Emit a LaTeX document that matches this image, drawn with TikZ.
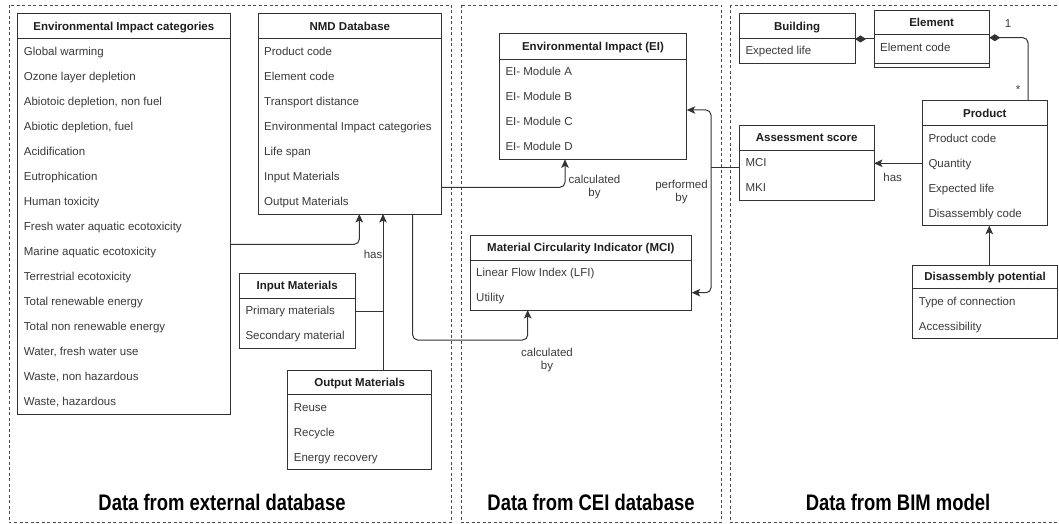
\documentclass[tikz,border=0pt]{standalone}
\usepackage{fontspec}
\setmainfont{Liberation Sans}
\usetikzlibrary{arrows.meta,calc}

\definecolor{ink}{HTML}{333333}
\definecolor{itemink}{HTML}{3A3A3A}
\definecolor{headink}{HTML}{1E1E1E}
\definecolor{panelink}{HTML}{4A4A4A}

\tikzset{
  classframe/.style={draw=ink, line width=1pt, inner sep=0pt, outer sep=0pt,
    anchor=north west, fill=white},
  frameline/.style={draw=ink, line width=1pt},
  headtext/.style={anchor=base, inner sep=0pt, text=headink,
    font=\fontsize{11.5}{13}\selectfont\bfseries},
  itemtext/.style={anchor=base west, inner sep=0pt, text=itemink,
    font=\fontsize{11.5}{13}\selectfont},
  labeltext/.style={inner sep=0pt, text=itemink, align=center,
    font=\fontsize{11.5}{13}\selectfont},
  conn/.style={draw=ink, line width=1pt, rounded corners=5pt},
  arrowto/.style={conn, -{Stealth[length=8.5pt,width=7.5pt,inset=2pt]}},
  partof/.style={conn, {Diamond[length=11pt,width=7pt]}-},
  panel/.style={draw=panelink, line width=0.8pt, dash pattern=on 3pt off 2.5pt},
  paneltitle/.style={anchor=base, inner sep=0pt, text=black,
    font=\fontsize{22.5}{26}\selectfont\bfseries},
}

% class box: name, left, top, width, height, header height, title, items
\newcommand\classbox[8]{%
  \node[classframe, minimum width=#4pt, minimum height=#5pt] (#1) at (#2,#3) {};
  \draw[frameline] ($(#1.north west)+(0,#6)$) -- ($(#1.north east)+(0,#6)$);
  \node[headtext] (#1-title) at ($(#1.north)+(0,#6/2+4)$) {#7};
  \foreach \itm [count=\k] in {#8}
    \node[itemtext] (#1-\k) at ($(#1.north west)+(6,#6+25*\k-8.5)$) {\itm};
}

\begin{document}
\begin{tikzpicture}[x=1pt,y=-1pt]
\useasboundingbox (0,0) rectangle (1059,524);

% the three data-source panels
\draw[panel] (9,5) rectangle (451,522.5);
\draw[panel] (461,5) rectangle (721,522.5);
\draw[panel] (730,5) rectangle (1066,522.5);
\node[paneltitle] (t-ext) at (222,510.5) {\scalebox{0.82}[1]{Data from external database}};
\node[paneltitle] (t-cei) at (591,510.5) {\scalebox{0.82}[1]{Data from CEI database}};
\node[paneltitle] (t-bim) at (898,510.5) {\scalebox{0.82}[1]{Data from BIM model}};

% external database
\classbox{env}{17.7}{14}{212.3}{400}{25}{Environmental Impact categories}{
  Global warming, Ozone layer depletion, {Abiotoic depletion, non fuel},
  {Abiotic depletion, fuel}, Acidification, Eutrophication, Human toxicity,
  Fresh water aquatic ecotoxicity, Marine aquatic ecotoxicity,
  Terrestrial ecotoxicity, Total renewable energy, Total non renewable energy,
  {Water, fresh water use}, {Waste, non hazardous}, {Waste, hazardous}}
\classbox{nmd}{258}{14}{183.7}{200}{25}{NMD Database}{
  Product code, Element code, Transport distance,
  Environmental Impact categories, Life span, Input Materials, Output Materials}
\classbox{inp}{239.3}{273.3}{115.7}{75}{25}{Input Materials}{
  Primary materials, Secondary material}
\classbox{outm}{287.7}{370}{144}{99.5}{24.5}{Output Materials}{
  Reuse, Recycle, Energy recovery}

% CEI database
\classbox{ei}{499.3}{33.3}{187.4}{126}{26}{Environmental Impact (EI)}{
  EI- Module A, EI- Module B, EI- Module C, EI- Module D}
\classbox{mci}{470}{235}{221.7}{75}{25}{Material Circularity Indicator (MCI)}{
  Linear Flow Index (LFI), Utility}

% BIM model
\classbox{bldg}{739.3}{14}{115.7}{49.5}{24.5}{Building}{Expected life}
\classbox{elem}{874}{10.7}{115.3}{57}{24}{Element}{Element code}
\draw[frameline] ($(elem.north west)+(0,52.8)$) -- ($(elem.north east)+(0,52.8)$);
\classbox{asmt}{739.3}{125.7}{134.7}{74.5}{24.5}{Assessment score}{MCI, MKI}
\classbox{prod}{922.3}{100.7}{125}{125}{25}{Product}{
  Product code, Quantity, Expected life, Disassembly code}
\classbox{disp}{912.7}{265}{144.6}{73.5}{23.5}{Disassembly potential}{
  Type of connection, Accessibility}

% connectors of the external database
\draw[arrowto] ($(env.north east)+(0,230.3)$) -| ($(nmd.south west)+(101.3,0)$);
\draw[arrowto] ($(outm.north west)+(95.3,0)$) -- ($(nmd.south west)+(125,0)$);
\coordinate (hasjoin) at ($(outm.north west)+(95.3,-58.3)$);
\draw[conn] ($(inp.north east)+(0,38.4)$) -- (hasjoin);
\node[labeltext, anchor=base east] (has1) at (382.5,258) {has};

% calculations towards the CEI database
\draw[arrowto] ($(nmd.north east)+(0,173.3)$) -| ($(ei.south west)+(65.7,0)$);
\node[labeltext] (calc1) at (594.5,187) {calculated\\by};
\draw[arrowto] ($(nmd.south west)+(154.7,0)$) -- ++(0,126) -| ($(mci.south west)+(57.7,0)$);
\node[labeltext] (calc2) at (547,360.5) {calculated\\by};

% assessment score performed by EI and MCI
\coordinate (perfjoin) at ($(asmt.north west)+(-28.3,42)$);
\draw[conn] ($(asmt.north west)+(0,42)$) -- (perfjoin);
\draw[arrowto] (perfjoin) |- ($(ei.north east)+(0,76.7)$);
\draw[arrowto] (perfjoin) |- ($(mci.north east)+(0,57.7)$);
\node[labeltext] (perf) at (681.5,192) {performed\\by};

% BIM model relations
\coordinate (prodhas) at ($(prod.north west)+(0,62.6)$);
\draw[arrowto] (prodhas) -- (prodhas -| asmt.east);
\node[labeltext] (has2) at (892.7,177.7) {has};
\draw[partof] ($(bldg.north east)+(0,25)$) -- ($(elem.north west)+(0,28.3)$);
\draw[partof] ($(elem.north east)+(0,27)$) -| ($(prod.north west)+(105.7,0)$);
\node[labeltext] (one) at (1008,24) {1};
\node[labeltext] (many) at (1018,90) {*};
\draw[arrowto] ($(disp.north west)+(76.6,0)$) -- ($(prod.south west)+(67,0)$);
\end{tikzpicture}
\end{document}
